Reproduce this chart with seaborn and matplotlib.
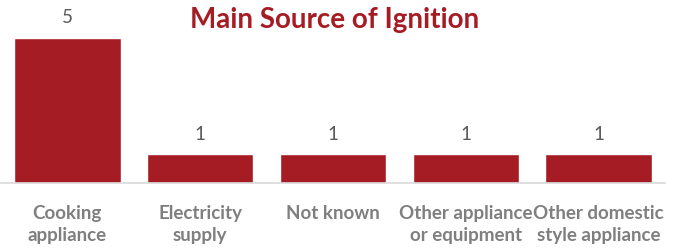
"""Bar chart: main source of ignition."""

import matplotlib

matplotlib.use("Agg")
import matplotlib.pyplot as plt
import pandas as pd
import seaborn as sns

categories = [
    "Cooking\nappliance",
    "Electricity\nsupply",
    "Not known",
    "Other appliance\nor equipment",
    "Other domestic\nstyle appliance",
]
counts = [5, 1, 1, 1, 1]

BAR_RED = "#A51C24"
GREY = "#7F7F7F"
DARK_GREY = "#595959"

sns.set_theme(style="white")
plt.rcParams["font.family"] = ["Lato", "DejaVu Sans"]

df = pd.DataFrame({"source": categories, "count": counts})

fig = plt.figure(figsize=(6.81, 2.53), dpi=100)
ax = fig.add_axes([1 / 681, 69 / 253, 664 / 681, 174 / 253])

sns.barplot(data=df, x="source", y="count", color=BAR_RED, saturation=1,
            width=0.8, ax=ax)

for container in ax.containers:
    ax.bar_label(container, fmt="%d", padding=9, color=DARK_GREY, fontsize=13.5)

ax.set_ylim(0, 6)
ax.set_xlabel("")
ax.set_ylabel("")
ax.set_yticks([])
ax.tick_params(axis="x", length=0, pad=15)
for lbl in ax.get_xticklabels():
    lbl.set_fontweight("bold")
    lbl.set_color(GREY)
    lbl.set_fontsize(13.5)
    lbl.set_linespacing(1.4)

for side in ["top", "right", "left"]:
    ax.spines[side].set_visible(False)
ax.spines["bottom"].set_color("#D9D9D9")
ax.spines["bottom"].set_linewidth(1.2)

fig.text(335 / 681, 1 - 28 / 253, "Main Source of Ignition", ha="center",
         va="baseline", fontsize=20, fontweight="bold", color=BAR_RED)

fig.savefig("out.png", dpi=100)
plt.close(fig)
